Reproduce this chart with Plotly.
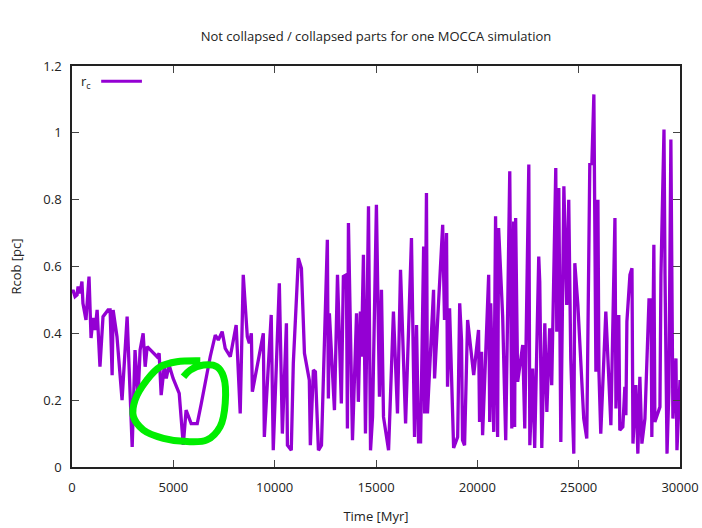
import plotly.graph_objects as go

# --- data ---
time_myr = [0, 50, 150, 250, 300, 400, 490, 540, 690, 840, 940, 1040, 1140, 1240, 1380,
            1530, 1780, 1880, 1980, 2030, 2220, 2470, 2720, 2970, 3110, 3260, 3360, 3510,
            3610, 3710, 4200, 4300, 4400, 4550, 4650, 4790, 4990, 5290, 5490, 5630, 5880,
            6180, 6380, 6820, 7070, 7220, 7410, 7560, 7810, 8100, 8300, 8450, 8650, 8750,
            8850, 8900, 9440, 9490, 9830, 9930, 10230, 10380, 10580, 10630, 10820, 10920,
            11170, 11320, 11470, 11710, 11760, 11910, 12010, 12160, 12310, 12600, 12650,
            12700, 12950, 13100, 13290, 13390, 13540, 13590, 13640, 13840, 14040, 14130,
            14230, 14280, 14380, 14480, 14630, 14730, 14830, 15020, 15170, 15270, 15370,
            15620, 15860, 16010, 16060, 16210, 16460, 16750, 16900, 17000, 17100, 17200,
            17350, 17400, 17490, 17540, 17840, 17890, 18290, 18380, 18480, 18530, 18630,
            18830, 19030, 19130, 19220, 19270, 19370, 19520, 19820, 20060, 20110, 20210,
            20260, 20560, 20610, 20660, 20810, 20900, 21000, 21050, 21250, 21400, 21500,
            21600, 21700, 21790, 21840, 21890, 21990, 22240, 22340, 22540, 22590, 22730,
            22830, 23030, 23080, 23180, 23330, 23430, 23570, 23670, 23870, 23920, 24020,
            24120, 24270, 24410, 24510, 24610, 24760, 24810, 24960, 25250, 25400, 25550,
            25650, 25750, 25850, 25950, 26000, 26090, 26340, 26590, 26790, 26840, 26980,
            27030, 27180, 27280, 27330, 27380, 27530, 27630, 27680, 27820, 27920, 28020,
            28120, 28270, 28470, 28570, 28610, 28710, 28760, 29010, 29060, 29110, 29210,
            29260, 29360, 29450, 29550, 29650, 29800, 29850, 30000]

rc_pc = [0.52, 0.53, 0.51, 0.515, 0.54, 0.52, 0.555, 0.49, 0.44, 0.57, 0.386, 0.446,
         0.41, 0.47, 0.30, 0.45, 0.47, 0.47, 0.275, 0.47, 0.39, 0.20, 0.45, 0.06, 0.35,
         0.21, 0.35, 0.40, 0.30, 0.36, 0.33, 0.34, 0.215, 0.30, 0.265, 0.305, 0.265,
         0.22, 0.066, 0.17, 0.13, 0.13, 0.19, 0.33, 0.395, 0.38, 0.405, 0.355, 0.33,
         0.425, 0.16, 0.575, 0.39, 0.37, 0.40, 0.225, 0.40, 0.09, 0.455, 0.05, 0.55,
         0.10, 0.43, 0.065, 0.05, 0.31, 0.625, 0.595, 0.34, 0.26, 0.065, 0.29, 0.285,
         0.05, 0.065, 0.68, 0.205, 0.46, 0.17, 0.575, 0.19, 0.57, 0.575, 0.115, 0.73,
         0.08, 0.46, 0.195, 0.465, 0.33, 0.635, 0.10, 0.78, 0.05, 0.15, 0.785, 0.21,
         0.53, 0.15, 0.05, 0.465, 0.18, 0.16, 0.59, 0.13, 0.685, 0.09, 0.425, 0.075,
         0.075, 0.66, 0.16, 0.82, 0.16, 0.53, 0.265, 0.725, 0.44, 0.70, 0.24, 0.475,
         0.057, 0.09, 0.49, 0.38, 0.08, 0.065, 0.44, 0.275, 0.41, 0.135, 0.345, 0.095,
         0.575, 0.135, 0.49, 0.105, 0.75, 0.09, 0.715, 0.45, 0.08, 0.435, 0.885, 0.115,
         0.735, 0.12, 0.745, 0.255, 0.365, 0.115, 0.905, 0.065, 0.295, 0.057, 0.63,
         0.555, 0.057, 0.43, 0.165, 0.415, 0.245, 0.895, 0.405, 0.835, 0.075, 0.84,
         0.485, 0.80, 0.325, 0.04, 0.61, 0.485, 0.145, 0.085, 0.91, 0.905, 1.115, 0.285,
         0.80, 0.285, 0.10, 0.465, 0.125, 0.745, 0.175, 0.455, 0.11, 0.12, 0.24, 0.155,
         0.435, 0.575, 0.595, 0.07, 0.245, 0.04, 0.27, 0.07, 0.145, 0.50, 0.50, 0.09,
         0.665, 0.135, 0.18, 0.575, 0.715, 1.01, 0.575, 0.04, 0.225, 0.98, 0.145, 0.325,
         0.05, 0.26]

# hand-drawn green loop (annotation), in data units
loop_t = [6330, 5170, 4350, 3690, 3110, 3030, 3520, 4510, 5670, 6660, 7310, 7560,
          7480, 7150, 6490, 5830, 5500]
loop_r = [0.318, 0.315, 0.300, 0.260, 0.200, 0.151, 0.111, 0.086, 0.076, 0.081,
          0.121, 0.191, 0.270, 0.300, 0.305, 0.290, 0.270]

x_ticks = [0, 5000, 10000, 15000, 20000, 25000, 30000]
y_ticks = [0, 0.2, 0.4, 0.6, 0.8, 1.0, 1.2]

FONT = "Open Sans"
PURPLE = "#9400D3"

fig = go.Figure()
fig.add_trace(go.Scatter(x=time_myr, y=rc_pc, mode="lines",
                         line=dict(color=PURPLE, width=3.3), name="r<sub>c</sub>",
                         showlegend=False))
fig.add_trace(go.Scatter(x=loop_t, y=loop_r, mode="lines",
                         line=dict(color="#00ee00", width=7, shape="spline"),
                         showlegend=False, hoverinfo="skip"))

axis_common = dict(showline=True, linecolor="#222", linewidth=1.5, mirror="ticks",
                   ticks="inside", ticklen=7, tickcolor="#444", tickwidth=1,
                   showgrid=False, zeroline=False, automargin=False,
                   tickfont=dict(family=FONT, size=13, color="#222"))

fig.update_layout(
    width=702, height=528,
    margin=dict(l=72, r=22, t=66, b=61),
    paper_bgcolor="white", plot_bgcolor="white",
    title=dict(text="Not collapsed / collapsed parts for one MOCCA simulation",
               x=0.5, xref="paper", y=1 - 36 / 528, yref="container", yanchor="middle",
               font=dict(family=FONT, size=13, color="#222")),
    xaxis=dict(range=[0, 30000], tickvals=x_ticks, ticktext=[str(v) for v in x_ticks],
               title=dict(text="Time [Myr]", standoff=17,
                          font=dict(family=FONT, size=13, color="#222")),
               ticklabelstandoff=8, **axis_common),
    yaxis=dict(range=[0, 1.2], tickvals=y_ticks, ticktext=["0", "0.2", "0.4", "0.6", "0.8", "1", "1.2"],
               title=dict(text="Rcob [pc]", standoff=19,
                          font=dict(family=FONT, size=13, color="#222")),
               ticklabelstandoff=6, **axis_common),
)

# gnuplot-style key: label then line sample
fig.add_annotation(x=0.034, y=0.96, xref="paper", yref="paper", xanchor="right",
                   yanchor="middle", showarrow=False, text="r<sub>c</sub>",
                   font=dict(family=FONT, size=13, color="#222"))
fig.add_shape(type="line", xref="paper", yref="paper", x0=0.048, x1=0.115,
              y0=0.962, y1=0.962, line=dict(color=PURPLE, width=3))

fig.write_html("out.html")
